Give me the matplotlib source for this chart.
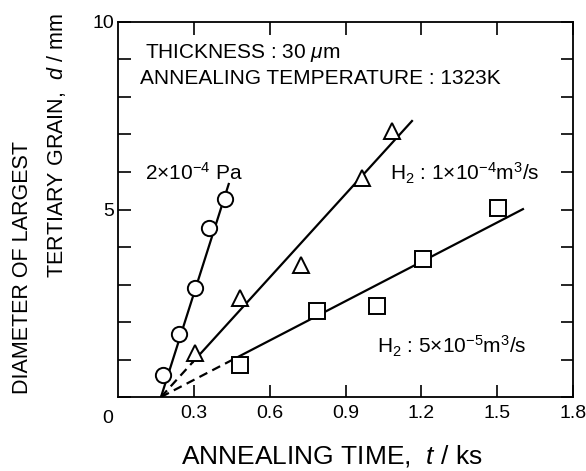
"""
Largest tertiary grain diameter vs annealing time.
"""

import matplotlib
matplotlib.use("Agg")
import matplotlib.pyplot as plt
from matplotlib.ticker import MultipleLocator, FixedLocator

plt.rcParams.update(
    {
        "font.family": ["Liberation Sans", "DejaVu Sans"],
        "mathtext.fontset": "custom",
        "mathtext.rm": "Liberation Sans",
        "mathtext.it": "Liberation Sans:italic",
        "mathtext.default": "rm",
    }
)

# 2e-4 Pa vacuum (circles)
t_vac = [0.178, 0.241, 0.305, 0.36, 0.423]
d_vac = [0.59, 1.68, 2.91, 4.5, 5.27]
fit_vac_t = [0.17, 0.438]
fit_vac_d = [0.0, 5.68]

# H2 1e-4 m3/s (triangles)
t_h1 = [0.305, 0.483, 0.724, 0.965, 1.083]
d_h1 = [1.17, 2.64, 3.52, 5.84, 7.1]
fit_h1_t = [0.17, 0.297, 1.163]
fit_h1_d = [0.0, 0.94, 7.36]

# H2 5e-5 m3/s (squares)
t_h5 = [0.483, 0.787, 1.025, 1.207, 1.503]
d_h5 = [0.85, 2.3, 2.43, 3.68, 5.04]
fit_h5_t = [0.17, 0.455, 1.602]
fit_h5_d = [0.0, 1.0, 5.01]

x_ticks = [0.3, 0.6, 0.9, 1.2, 1.5, 1.8]
x_ticklabels = ["0.3", "0.6", "0.9", "1.2", "1.5", "1.8"]


def main():
    fig = plt.figure(figsize=(5.86, 4.71), dpi=100)
    ax = fig.add_axes([0.2014, 0.1571, 0.7764, 0.7962])

    lw = 1.6
    mk = dict(mfc="white", mec="black", mew=1.4, ls="none", zorder=3)
    fs = 15

    # fitted lines
    ax.plot(fit_vac_t, fit_vac_d, color="black", lw=lw)
    ax.plot(fit_h1_t[:2], fit_h1_d[:2], color="black", lw=lw, ls=(0, (4, 2.5)))
    ax.plot(fit_h1_t[1:], fit_h1_d[1:], color="black", lw=lw)
    ax.plot(fit_h5_t[:2], fit_h5_d[:2], color="black", lw=lw, ls=(0, (4, 2.5)))
    ax.plot(fit_h5_t[1:], fit_h5_d[1:], color="black", lw=lw)

    ax.plot(t_vac, d_vac, marker="o", ms=11, **mk)
    ax.plot(t_h1, d_h1, marker="^", ms=12, **mk)
    ax.plot(t_h5, d_h5, marker="s", ms=11, **mk)

    ax.set_xlim(0, 1.8)
    ax.set_ylim(0, 10)
    ax.xaxis.set_major_locator(FixedLocator(x_ticks))
    ax.set_xticklabels(x_ticklabels)
    ax.yaxis.set_major_locator(FixedLocator([5, 10]))
    ax.set_yticklabels(["5", "10"])
    ax.yaxis.set_minor_locator(MultipleLocator(1))
    ax.tick_params(which="both", direction="in", top=True, right=True,
                   length=9, width=1.2, labelsize=14, pad=6)
    ax.tick_params(axis="y", pad=3)
    for s in ax.spines.values():
        s.set_linewidth(1.3)

    # shared origin label
    ax.text(-0.022, -0.035, "0", transform=ax.transAxes, fontsize=14,
            ha="center", va="top")

    ax.text(0.107, 9.17, r"THICKNESS : 30 $\mathit{\mu}$m", fontsize=fs, va="center")
    ax.text(0.087, 8.5, "ANNEALING TEMPERATURE : 1323K", fontsize=fs, va="center")
    ax.text(0.107, 5.97, r"2×10$^{-4}$ Pa", fontsize=fs, va="center")
    ax.text(1.076, 5.97, r"H$_2$ : 1×10$^{-4}$m$^3$/s", fontsize=fs, va="center")
    ax.text(1.024, 1.36, r"H$_2$ : 5×10$^{-5}$m$^3$/s", fontsize=fs, va="center")

    ax.set_xlabel(r"ANNEALING TIME,  $\mathit{t}$ / ks", fontsize=19)
    ax.xaxis.set_label_coords(0.47, -0.123)
    fig.text(23 / 586, 1 - 268 / 471, "DIAMETER OF LARGEST", rotation=90,
             fontsize=15.5, ha="center", va="center")
    fig.text(56 / 586, 1 - 146 / 471, r"TERTIARY GRAIN,  $\mathit{d}$ / mm",
             rotation=90, fontsize=15.5, ha="center", va="center")

    fig.savefig("out.png", dpi=100)


if __name__ == "__main__":
    main()
